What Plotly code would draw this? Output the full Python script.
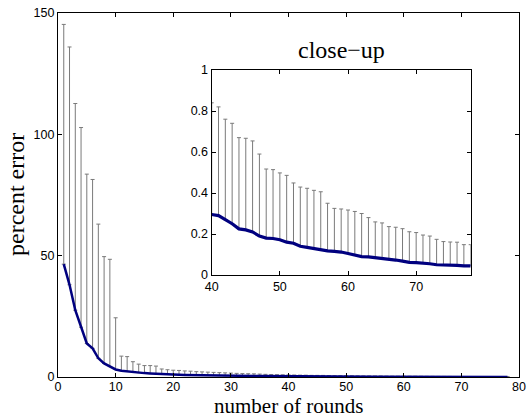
import plotly.graph_objects as go

rounds = list(range(1, 79))
mean_err = [
    46.5, 38.0, 27.5, 20.5, 13.8, 11.8, 7.7, 5.6, 4.3, 3.1,
    2.6, 2.3, 2.0, 1.8, 1.6, 1.45, 1.3, 1.2, 1.1, 1.0,
    0.93, 0.86, 0.8, 0.75, 0.7, 0.66, 0.62, 0.58, 0.55, 0.52,
    0.49, 0.46, 0.44, 0.42, 0.40, 0.37, 0.35, 0.33, 0.31,
    0.295, 0.29, 0.27, 0.25, 0.225, 0.22, 0.21, 0.19, 0.18, 0.178,
    0.172, 0.16, 0.155, 0.14, 0.135, 0.128, 0.122, 0.118, 0.115, 0.112,
    0.105, 0.098, 0.09, 0.088, 0.085, 0.08, 0.077, 0.073, 0.068, 0.062,
    0.06, 0.058, 0.055, 0.05, 0.05, 0.049, 0.047, 0.045, 0.045,
]
upper_err = [
    145.3, 136.0, 112.7, 102.8, 83.6, 81.4, 63.0, 49.6, 48.5, 24.4,
    8.6, 8.4, 6.3, 5.3, 4.7, 4.7, 4.5, 3.3, 3.0, 2.8,
    2.7, 2.5, 2.4, 2.2, 2.1, 2.0, 1.9, 1.8, 1.7, 1.6,
    1.5, 1.4, 1.35, 1.3, 1.2, 1.1, 1.0, 0.95, 0.9,
    0.84, 0.82, 0.76, 0.74, 0.67, 0.667, 0.654, 0.59, 0.517, 0.514,
    0.498, 0.486, 0.449, 0.429, 0.423, 0.413, 0.406, 0.35, 0.325, 0.322,
    0.317, 0.31, 0.30, 0.28, 0.259, 0.254, 0.236, 0.233, 0.226, 0.211,
    0.207, 0.195, 0.19, 0.174, 0.163, 0.161, 0.16, 0.148, 0.148,
]

main_xticks = [0, 10, 20, 30, 40, 50, 60, 70, 80]
main_yticks = [0, 50, 100, 150]
inset_xticks = [40, 50, 60, 70]
inset_yticks = [0, 0.2, 0.4, 0.6, 0.8, 1]
inset_ytext = ["0", "0.2", "0.4", "0.6", "0.8", "1"]

plus = [u - m for u, m in zip(upper_err, mean_err)]
minus = [0 for _ in mean_err]

inset_idx = [i for i, r in enumerate(rounds) if r >= 40]
ix = [rounds[i] for i in inset_idx]
im = [mean_err[i] for i in inset_idx]
ip = [plus[i] for i in inset_idx]
imn = [minus[i] for i in inset_idx]

BAR = "#7a7a7a"
LINE = "#00007f"
tickfont = dict(family="Liberation Sans, Arial, sans-serif", size=12.5, color="black")
serif = "Liberation Serif, Times New Roman, serif"

fig = go.Figure()

def add_set(x, m, p, mn, xa, ya, lw):
    fig.add_trace(go.Scatter(
        x=x, y=m, mode="markers", xaxis=xa, yaxis=ya,
        marker=dict(size=1, color="rgba(0,0,0,0)"),
        error_y=dict(type="data", symmetric=False, array=p, arrayminus=mn,
                     color=BAR, thickness=1, width=2),
        hoverinfo="skip", showlegend=False,
    ))
    fig.add_trace(go.Scatter(
        x=x, y=m, mode="lines", xaxis=xa, yaxis=ya,
        line=dict(color=LINE, width=lw), showlegend=False,
    ))

add_set(rounds, mean_err, plus, minus, "x", "y", 2.5)
add_set(ix, im, ip, imn, "x2", "y2", 3.2)

axis_common = dict(showgrid=False, zeroline=False, showline=True, linecolor="black",
                   linewidth=1.3, mirror="ticks", ticks="inside", ticklen=4,
                   tickcolor="black", tickwidth=1, tickfont=tickfont, automargin=False)

fig.update_layout(
    width=527, height=418,
    margin=dict(l=58, r=8, t=13, b=41),
    paper_bgcolor="white", plot_bgcolor="white",
    xaxis=dict(range=[0, 80], tickvals=main_xticks, domain=[0, 1], ticklabelstandoff=-2,
               **axis_common),
    yaxis=dict(range=[0, 150], tickvals=main_yticks, domain=[0, 1], **axis_common),
    xaxis2=dict(range=[40, 78], tickvals=inset_xticks, domain=[0.3334, 0.8952], anchor="y2",
                **axis_common),
    yaxis2=dict(range=[0, 1], tickvals=inset_yticks, ticktext=inset_ytext,
                domain=[0.2802, 0.8434], anchor="x2", **axis_common),
    annotations=[
        dict(text="close\u2212up", xref="x2 domain", yref="y2 domain", x=0.5, y=1.0,
             yshift=5, xanchor="center", yanchor="bottom", showarrow=False,
             font=dict(family=serif, size=24, color="black")),
        dict(text="number of rounds", xref="paper", yref="paper", x=0.5, y=0,
             yshift=-29, xanchor="center", yanchor="middle", showarrow=False,
             font=dict(family=serif, size=21, color="black")),
        dict(text="percent error", xref="paper", yref="paper", x=0, y=0.5,
             xshift=-42, xanchor="center", yanchor="middle", textangle=-90, showarrow=False,
             font=dict(family=serif, size=24, color="black")),
    ],
)

fig.write_html("out.html")
